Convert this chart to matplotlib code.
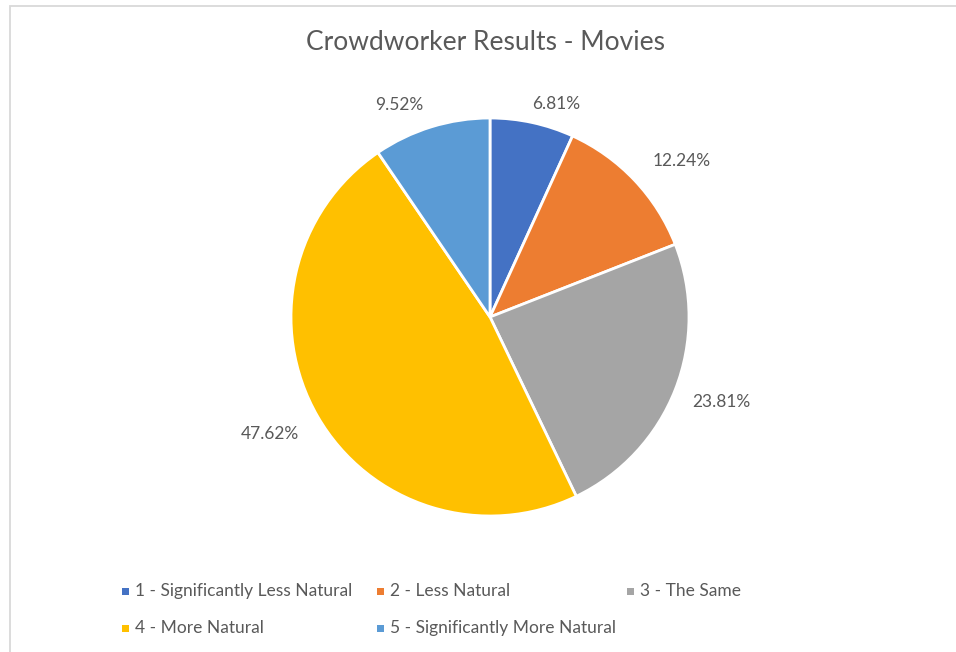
import numpy as np
import matplotlib
matplotlib.use("Agg")
import matplotlib.pyplot as plt
from matplotlib.patches import Rectangle

# Survey shares per rating category (percent)
categories = [
    "1 - Significantly Less Natural",
    "2 - Less Natural",
    "3 - The Same",
    "4 - More Natural",
    "5 - Significantly More Natural",
]
shares = [6.81, 12.24, 23.81, 47.62, 9.52]
colors = ["#4472C4", "#ED7D31", "#A5A5A5", "#FFC000", "#5B9BD5"]

TEXT = "#595959"
FONT = "Lato"

W, H = 956, 652
fig = plt.figure(figsize=(W / 100, H / 100), dpi=100)
fig.patch.set_facecolor("white")

# chart frame (runs off the right and bottom edges)
fig.add_artist(Rectangle((10 / W, -0.05), 1.1, 1 - 6 / H + 0.05,
                         transform=fig.transFigure, fill=False,
                         edgecolor="#D9D9D9", linewidth=1.3))

fig.text(486 / W, 1 - 43 / H, "Crowdworker Results - Movies",
         ha="center", va="center", fontsize=19, color=TEXT, family=FONT)

# pie axes: centre (490, 317) px, radius ~199 px
cx, cy, r = 490, 317, 199
ax = fig.add_axes([(cx - r) / W, 1 - (cy + r) / H, 2 * r / W, 2 * r / H])

wedges, _ = ax.pie(shares, colors=colors, startangle=90, counterclock=False,
                   radius=1, wedgeprops=dict(edgecolor="white", linewidth=2))
ax.set_xlim(-1, 1)
ax.set_ylim(-1, 1)
ax.set_aspect("equal")
ax.axis("off")

# data labels outside each wedge
label_dist = [1.12, 1.24, 1.24, 1.25, 1.16]
label_nudge = [-5.0, -4.3, 1.4, -2.0, 6.0]
for w, v, d, n in zip(wedges, shares, label_dist, label_nudge):
    mid = np.deg2rad((w.theta1 + w.theta2) / 2 + n)
    ax.text(d * np.cos(mid), d * np.sin(mid), f"{v:.2f}%",
            ha="center", va="center", fontsize=12.5, color=TEXT, family=FONT,
            clip_on=False)

# legend laid out on a 3-column grid
col_x = [122, 377, 627]
row_y = [591, 628]
for i, (name, c) in enumerate(zip(categories, colors)):
    x = col_x[i % 3]
    y = row_y[i // 3]
    fig.add_artist(Rectangle((x / W, 1 - (y + 4) / H), 7 / W, 7 / H,
                             transform=fig.transFigure, facecolor=c,
                             edgecolor="none"))
    fig.text((x + 13) / W, 1 - y / H, name, ha="left", va="center",
             fontsize=12.5, color=TEXT, family=FONT)

fig.savefig("out.png", dpi=100, facecolor="white")
